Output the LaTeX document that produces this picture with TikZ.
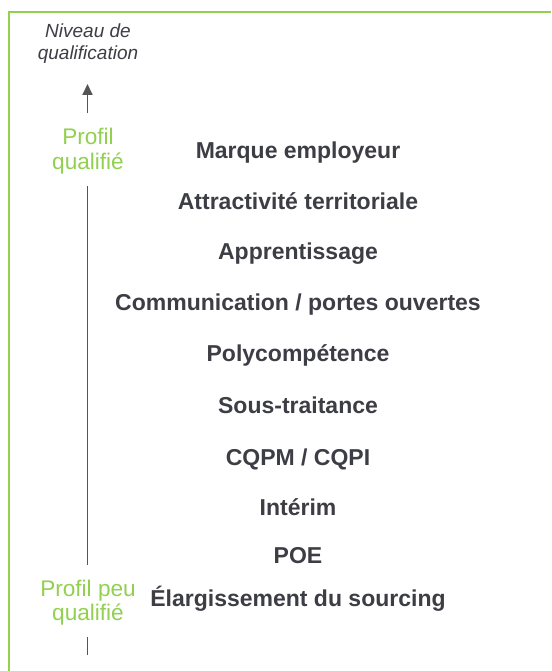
\documentclass[tikz,border=0pt]{standalone}
\usepackage{fontspec}
\setmainfont{Liberation Sans}
\usetikzlibrary{arrows.meta}
\definecolor{frameGreen}{HTML}{92D050}
\definecolor{labelGreen}{HTML}{92D050}
\definecolor{darkText}{HTML}{3D3D45}
\definecolor{axisGray}{HTML}{555555}
\tikzset{
  lever/.style={anchor=base, font=\fontsize{23}{25}\selectfont\bfseries, text=darkText, inner sep=0pt},
  profil/.style={anchor=base, font=\fontsize{22.6}{24}\selectfont, text=labelGreen, inner sep=0pt, align=center},
  axisline/.style={draw=axisGray, line width=1.8pt},
}
\begin{document}
\begin{tikzpicture}[x=1pt,y=-1pt]
\useasboundingbox (0,0) rectangle (551,671);
\fill[white] (0,0) rectangle (551,671);
% frame
\draw[frameGreen, line width=2pt] (8.5,671) -- (8.5,12) -- (551,12);
% title
\node[anchor=base, font=\fontsize{19}{22}\selectfont\itshape, text=darkText, inner sep=0pt] (t1) at (88,38) {Niveau de};
\node[anchor=base, font=\fontsize{19}{22}\selectfont\itshape, text=darkText, inner sep=0pt] (t2) at (88,60) {qualification};
% axis
\coordinate (a1) at (87.5,113);
\coordinate (a0) at (87.5,84);
\draw[axisline, -{Triangle[length=11pt,width=10pt]}] (a1) -- (a0);
\node[profil] (p1) at (88,145) {Profil};
\node[profil] (p2) at (88,169) {qualifié};
\coordinate (b0) at (87.5,186);
\coordinate (b1) at (87.5,565);
\draw[axisline] (b0) -- (b1);
\node[profil] (q1) at (88,596) {Profil peu};
\node[profil] (q2) at (88,620) {qualifié};
\coordinate (c0) at (87.5,637);
\coordinate (c1) at (87.5,655);
\draw[axisline] (c0) -- (c1);
% levers
\node[lever] (l1) at (298,159) {Marque employeur};
\node[lever] (l2) at (298,209) {Attractivité territoriale};
\node[lever] (l3) at (298,259) {Apprentissage};
\node[lever] (l4) at (298,310) {Communication / portes ouvertes};
\node[lever] (l5) at (298,361) {Polycompétence};
\node[lever] (l6) at (298,413) {Sous-traitance};
\node[lever] (l7) at (298,465) {CQPM / CQPI};
\node[lever] (l8) at (298,515) {Intérim};
\node[lever] (l9) at (298,563) {POE};
\node[lever] (l10) at (298,606) {Élargissement du sourcing};
\end{tikzpicture}
\end{document}
